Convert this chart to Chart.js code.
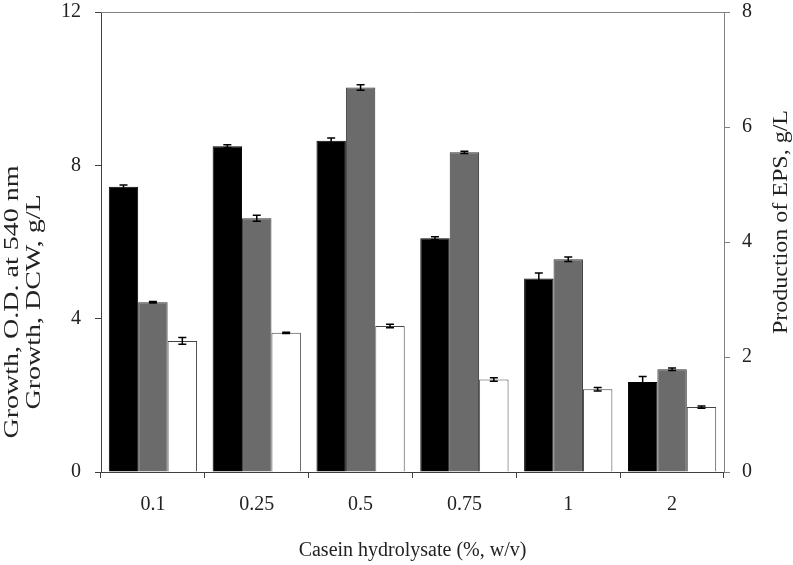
<!DOCTYPE html>
<html>
<head>
<meta charset="utf-8">
<script src="https://cdn.jsdelivr.net/npm/chart.js@4.4.0/dist/chart.umd.min.js"></script>
<style>
  html, body { margin: 0; padding: 0; background: #ffffff; }
  #wrap { width: 793px; height: 565px; position: relative; }
</style>
</head>
<body>
<div id="wrap"><canvas id="c"></canvas></div>
<script>
// ---- data ----
const categories = ['0.1', '0.25', '0.5', '0.75', '1', '2'];
const odValues  = [7.44, 8.50, 8.64, 6.10, 5.05, 2.35];
const odErrors  = [0.05, 0.04, 0.07, 0.04, 0.14, 0.14];
const dcwValues = [4.43, 6.62, 10.03, 8.34, 5.55, 2.68];
const dcwErrors = [0.02, 0.08, 0.07, 0.03, 0.06, 0.03];
const epsValues = [2.28, 2.42, 2.54, 1.61, 1.44, 1.13];
const epsErrors = [0.06, 0.01, 0.03, 0.03, 0.03, 0.02];
const leftTicks  = [0, 4, 8, 12];
const rightTicks = [0, 2, 4, 6, 8];
const xTitle = 'Casein hydrolysate (%, w/v)';
const leftTitle = ['Growth, O.D. at 540 nm', 'Growth, DCW, g/L'];
const rightTitle = 'Production of EPS, g/L';

const FONT = "'Liberation Serif', 'Times New Roman', serif";
const errorMap = [odErrors, dcwErrors, epsErrors];

const errorBars = {
  id: 'errorBars',
  afterDatasetsDraw(chart) {
    const ctx = chart.ctx;
    ctx.save();
    ctx.strokeStyle = '#000';
    ctx.lineWidth = 1.5;
    chart.data.datasets.forEach((ds, i) => {
      const meta = chart.getDatasetMeta(i);
      const scale = chart.scales[meta.yAxisID];
      const errs = errorMap[i];
      meta.data.forEach((bar, j) => {
        const v = ds.data[j], e = errs[j];
        const x = bar.x;
        const yt = scale.getPixelForValue(v + e);
        const yb = scale.getPixelForValue(v - e);
        const cw = 4;
        ctx.beginPath();
        ctx.moveTo(x, yt); ctx.lineTo(x, yb);
        ctx.moveTo(x - cw, yt); ctx.lineTo(x + cw, yt);
        ctx.moveTo(x - cw, yb); ctx.lineTo(x + cw, yb);
        ctx.stroke();
      });
    });
    ctx.restore();
  }
};

const frameAndTitles = {
  id: 'frameAndTitles',
  afterDraw(chart) {
    const ctx = chart.ctx;
    const a = chart.chartArea;
    ctx.save();
    // top frame line
    ctx.strokeStyle = '#808080';
    ctx.lineWidth = 1;
    ctx.beginPath();
    ctx.moveTo(a.left, a.top + 0.5);
    ctx.lineTo(a.right, a.top + 0.5);
    ctx.stroke();
    // left title (two lines, reading upward)
    ctx.fillStyle = '#222';
    ctx.font = '20px ' + FONT;
    ctx.textAlign = 'center';
    ctx.textBaseline = 'middle';
    ctx.save();
    ctx.translate(13, 302);
    ctx.rotate(-Math.PI / 2);
    ctx.scale(1.4, 1);
    ctx.fillText(leftTitle[0], 0, 0);
    ctx.fillText(leftTitle[1], 0, 22);
    ctx.restore();
    // right title (reading upward)
    ctx.save();
    ctx.translate(782, 222);
    ctx.rotate(-Math.PI / 2);
    ctx.scale(1.2, 1);
    ctx.fillText(rightTitle, 0, 0);
    ctx.restore();
    ctx.restore();
  }
};

function fixVertical(width, topPad) {
  return function (s) {
    s.width = width;
    s.paddingTop = topPad;
    s.paddingBottom = 0;
  };
}

new Chart(document.getElementById('c'), {
  type: 'bar',
  data: {
    labels: categories,
    datasets: [
      { label: 'O.D.', data: odValues, yAxisID: 'y', backgroundColor: '#000000', borderColor: '#000000', borderWidth: 1 },
      { label: 'DCW', data: dcwValues, yAxisID: 'y', backgroundColor: '#6b6b6b', borderColor: '#333333', borderWidth: 1 },
      { label: 'EPS', data: epsValues, yAxisID: 'y1', backgroundColor: '#ffffff', borderColor: '#444444', borderWidth: 1 }
    ]
  },
  options: {
    responsive: true,
    maintainAspectRatio: false,
    animation: false,
    layout: { padding: { top: 12, left: 0, right: 0, bottom: 0 } },
    datasets: { bar: { categoryPercentage: 0.85, barPercentage: 1.0 } },
    plugins: { legend: { display: false }, tooltip: { enabled: false } },
    scales: {
      x: {
        position: 'bottom',
        grid: { offset: true, drawOnChartArea: false, drawTicks: true, tickLength: 6, color: '#404040' },
        border: { display: true, color: '#404040', width: 1 },
        ticks: { color: '#222', font: { family: FONT, size: 20 }, padding: 15, maxRotation: 0 },
        title: { display: true, text: xTitle, color: '#222', font: { family: FONT, size: 20 }, padding: { top: 0, bottom: 2 } },
        afterFit(s) { s.height = 93; s.paddingLeft = 0; s.paddingRight = 0; }
      },
      y: {
        position: 'left',
        min: 0, max: 12,
        afterBuildTicks(s) { s.ticks = leftTicks.map(v => ({ value: v })); },
        grid: { drawOnChartArea: false, drawTicks: true, tickLength: 6, color: '#404040' },
        border: { display: true, color: '#404040', width: 1 },
        ticks: { color: '#222', font: { family: FONT, size: 20 }, padding: 14 },
        afterFit: fixVertical(101, 12)
      },
      y1: {
        position: 'right',
        min: 0, max: 8,
        afterBuildTicks(s) { s.ticks = rightTicks.map(v => ({ value: v })); },
        grid: { drawOnChartArea: false, drawTicks: true, tickLength: 6, color: '#808080' },
        border: { display: true, color: '#808080', width: 1 },
        ticks: { color: '#222', font: { family: FONT, size: 20 }, padding: 12 },
        afterFit: fixVertical(69, 12)
      }
    }
  },
  plugins: [errorBars, frameAndTitles]
});
</script>
</body>
</html>
